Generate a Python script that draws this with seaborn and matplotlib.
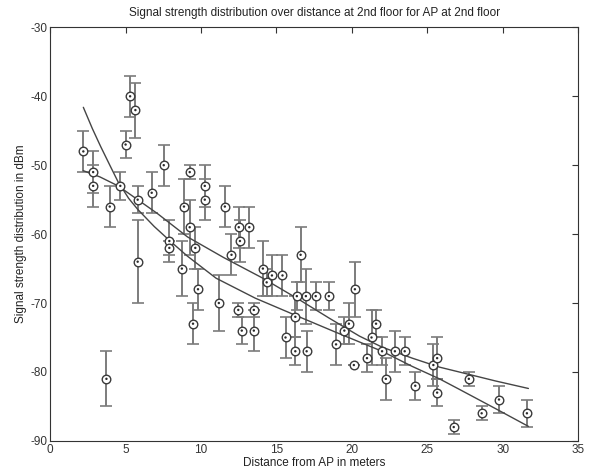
import matplotlib
matplotlib.use("Agg")
import matplotlib.pyplot as plt
import seaborn as sns
import pandas as pd
import numpy as np

# measured points: distance (m), mean signal (dBm), error half-width (dB)
distance = [2.2, 2.85, 2.85, 3.73, 3.95, 4.65, 5.0, 5.3, 5.65, 5.8, 5.8, 6.73, 7.53,
            7.9, 7.9, 8.73, 8.87, 9.25, 9.25, 9.47, 9.62, 9.8, 10.25, 10.25, 11.18,
            11.58, 12.02, 12.47, 12.5, 12.58, 12.7, 13.2, 13.5, 13.5, 14.1, 14.35,
            14.7, 15.4, 15.6, 16.25, 16.25, 16.35, 16.6, 16.95, 17.0, 17.6, 18.47,
            18.95, 19.5, 19.8, 20.13, 20.2, 21.0, 21.3, 21.6, 22.0, 22.25, 22.85,
            23.5, 24.2, 25.4, 25.65, 25.65, 26.75, 27.75, 28.6, 29.75, 31.6]
signal = [-48, -51, -53, -81, -56, -53, -47, -40, -42, -55, -64, -54, -50,
          -61, -62, -65, -56, -51, -59, -73, -62, -68, -53, -55, -70,
          -56, -63, -71, -59, -61, -74, -59, -71, -74, -65, -67,
          -66, -66, -75, -72, -77, -69, -63, -69, -77, -69, -69,
          -76, -74, -73, -79, -68, -78, -75, -73, -77, -81, -77,
          -77, -82, -79, -78, -83, -88, -81, -86, -84, -86]
error = [3, 3, 3, 4, 3, 2, 2, 3, 4, 2, 6, 3, 3,
         3, 1, 4, 4, 1, 4, 3, 3, 3, 3, 3, 4,
         3, 3, 1, 3, 3, 2, 3, 1, 3, 4, 2,
         3, 3, 3, 3, 2, 2, 4, 4, 3, 2, 2,
         3, 2, 3, 0, 4, 2, 4, 2, 2, 3, 3,
         2, 2, 3, 3, 2, 1, 1, 1, 2, 2]

# fitted curves
fit1_x = [2.2, 2.8, 3.35, 4.0, 4.5, 5.2, 5.8, 6.9, 8.0, 9.1, 11.0, 13.6, 16.5,
          19.0, 22.0, 24.0, 25.8, 27.1, 29.5, 31.7]
fit1_y = [-41.6, -44.7, -47.3, -50.2, -52.4, -54.8, -56.4, -58.9, -61.1, -63.2,
          -66.4, -69.3, -72.0, -74.3, -77.0, -79.2, -81.0, -82.5, -85.3, -87.9]
fit2_x = [2.2, 3.3, 4.5, 5.8, 7.1, 9.1, 11.5, 14.1, 16.5, 18.5, 20.5, 22.0, 24.0,
          25.8, 27.1, 29.5, 31.7]
fit2_y = [-50.8, -51.7, -53.0, -55.0, -57.0, -60.4, -63.4, -66.4, -69.5, -72.2,
          -74.8, -76.4, -78.0, -79.3, -80.0, -81.3, -82.4]

x_ticks = [0, 5, 10, 15, 20, 25, 30, 35]
y_ticks = [-90, -80, -70, -60, -50, -40, -30]

sns.set_theme(style="white")
plt.rcParams['font.family'] = ['Liberation Sans', 'DejaVu Sans']

df = pd.DataFrame({"d": distance, "s": signal, "e": error})
c1 = pd.DataFrame({"x": fit1_x, "y": fit1_y})
c2 = pd.DataFrame({"x": fit2_x, "y": fit2_y})

fig = plt.figure(figsize=(5.9, 4.72), dpi=100)
ax = fig.add_axes([0.085, 0.066, 0.895, 0.876])

ax.errorbar(df["d"], df["s"], yerr=df["e"], fmt="none", ecolor="#7c7c7c",
            elinewidth=1.4, capsize=4.5, capthick=1.2, zorder=2)
sns.lineplot(data=c1, x="x", y="y", sort=False, estimator=None, ax=ax,
             color="#454545", lw=1.0, zorder=3)
sns.lineplot(data=c2, x="x", y="y", sort=False, estimator=None, ax=ax,
             color="#454545", lw=1.0, zorder=3)
sns.scatterplot(data=df, x="d", y="s", ax=ax, marker="o", s=38,
                facecolor="white", edgecolor="#3a3a3a", linewidth=1.0, zorder=4)
sns.scatterplot(data=df, x="d", y="s", ax=ax, marker="o", s=3,
                color="#2a2a2a", edgecolor="none", zorder=5)

ax.set_xlim(0, 35)
ax.set_ylim(-90, -30)
ax.set_xticks(x_ticks)
ax.set_yticks(y_ticks)
ax.set_xticklabels([str(t) for t in x_ticks])
ax.set_yticklabels([str(t) for t in y_ticks])
ax.tick_params(direction="in", length=4, width=0.8, top=True, right=True,
               labelsize=8.5, colors="#333333", pad=2)
for sp in ax.spines.values():
    sp.set_visible(True)
    sp.set_color("#333333")
    sp.set_linewidth(0.8)
ax.set_xlabel("Distance from AP in meters", fontsize=8.5, labelpad=1, color="#222222")
ax.set_ylabel("Signal strength distribution in dBm", fontsize=8.5, labelpad=2, color="#222222")
ax.set_title("Signal strength distribution over distance at 2nd floor for AP at 2nd floor",
             fontsize=8.5, pad=8, color="#222222")

fig.savefig("out.png", dpi=100)
